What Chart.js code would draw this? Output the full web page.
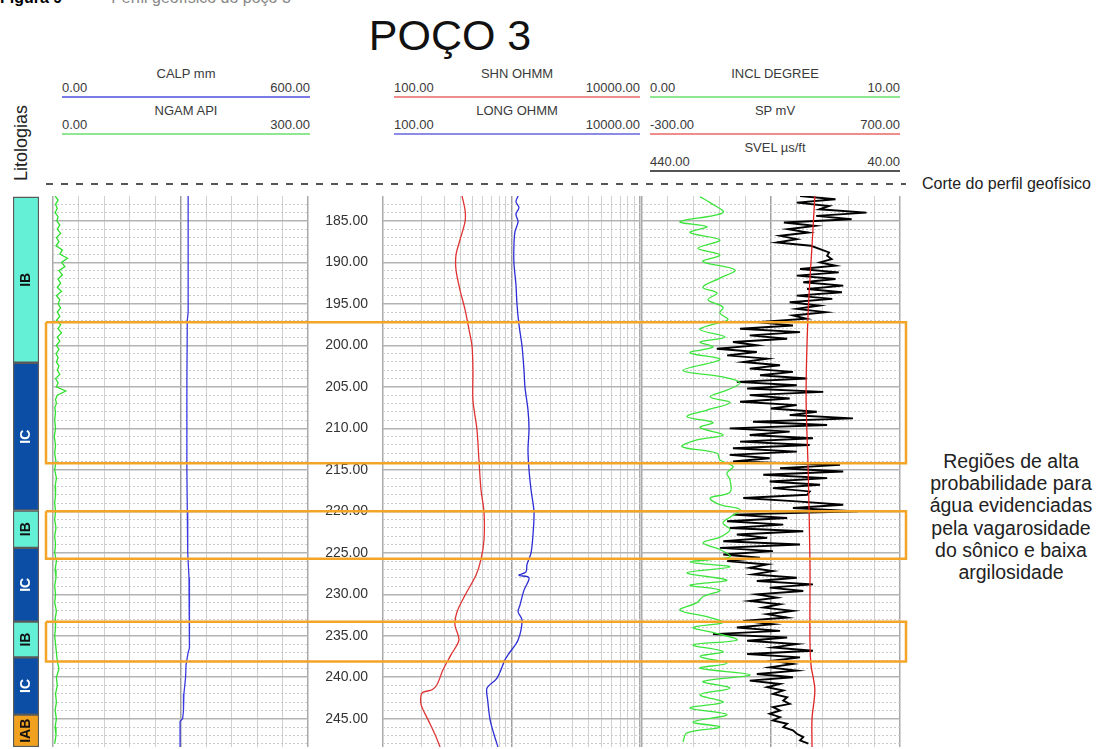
<!DOCTYPE html>
<html lang="pt">
<head>
<meta charset="utf-8">
<title>POÇO 3</title>
<script src="https://cdn.jsdelivr.net/npm/chart.js@4.4.1/dist/chart.umd.min.js"></script>
<style>
  body { margin: 0; width: 1096px; height: 749px; overflow: hidden; background: #fff;
         font-family: "Liberation Sans", Arial, sans-serif; color: #222; position: relative; }
  canvas { position: absolute; }
  .t { position: absolute; white-space: nowrap; font-size: 13px; line-height: 13px; color: #3a3a3a; }
  .hl { position: absolute; height: 2px; }
</style>
</head>
<body>
<div class="t" style="left:0;top:-10px;font-size:16px;line-height:16px;color:#000"><b>Figura 9</b><span style="color:#888">&nbsp;&nbsp;&nbsp;&nbsp;&nbsp;&nbsp;&nbsp;&nbsp;– Perfil geofísico do poço 3</span></div>
<div class="t" style="left:450px;top:14px;font-size:43px;line-height:43px;color:#111;transform:translateX(-50%)">POÇO 3</div>
<div class="t" style="left:21px;top:143px;font-size:18px;line-height:18px;color:#222;transform:translate(-50%,-50%) rotate(-90deg)">Litologias</div>
<div style="position:absolute;left:46px;top:183px;width:860px;height:1.5px;background:repeating-linear-gradient(to right,#555 0 7px,transparent 7px 15px)"></div>
<div class="t" style="left:922px;top:176px;font-size:16px;line-height:16px;color:#222">Corte do perfil geofísico</div>
<div class="t" style="left:911px;top:450px;width:200px;text-align:center;font-size:19.5px;line-height:22.2px;color:#222">Regiões de alta<br>probabilidade para<br>água evidenciadas<br>pela vagarosidade<br>do sônico e baixa<br>argilosidade</div>

<script>
// ---- data (depth in m) ----
const depthTicks = [185, 190, 195, 200, 205, 210, 215, 220, 225, 230, 235, 240, 245];

const litoNames = ['IB', 'IC', 'IB', 'IC', 'IB', 'IC', 'IAB'];
const litoTop   = [182.1, 202.1, 219.9, 224.4, 233.3, 237.6, 244.5];
const litoBase  = [202.1, 219.9, 224.4, 233.3, 237.6, 244.5, 248.4];

const waterTop  = [197.2, 220.0, 233.3];
const waterBase = [214.2, 225.7, 238.1];

const calpDepth = [182, 196, 197, 205, 215, 220, 225, 228, 232, 235, 236.5, 237, 238.5, 240, 242, 244, 245, 245.3, 248.4];
const calpValue = [318, 318, 316, 315, 315, 316, 317, 320, 320, 321, 322, 318, 313, 312, 308, 307, 305, 299, 299];

const ngamDepth = [182, 182.5, 183, 183.5, 184, 184.5, 185, 185.5, 186, 186.5, 187, 187.5, 188, 188.5, 189, 189.5,
  190, 190.5, 191, 191.5, 192, 192.5, 193, 193.5, 194, 194.5, 195, 195.5, 196, 196.5, 197, 197.5, 198, 198.5,
  199, 199.5, 200, 200.5, 201, 201.5, 202, 202.5, 203, 203.5, 204, 204.5, 205, 205.5, 206, 206.5, 207, 207.5, 208,
  209, 210, 211, 212, 213, 214, 215, 216, 217, 218, 219, 220, 221, 222, 223, 224, 225, 226, 227, 228, 229, 230,
  231, 232, 233, 234, 235, 236, 237, 238, 239, 240, 241, 242, 243, 244, 245, 246, 247, 248];
const ngamValue = [2.5, 6, 3, 5, 2.5, 6, 4.5, 8, 5, 9, 4, 7, 3.5, 11, 8, 17,
  10, 14, 7, 11, 6, 9, 5, 10, 4, 8, 6, 9, 5, 8, 4, 9, 6, 10,
  5, 8, 4, 7, 3.5, 6, 4, 7, 5, 8, 3, 6, 4, 15, 5, 3, 4, 2, 3,
  2, 3, 1.5, 3, 2, 3.5, 2, 4, 2.5, 3, 2, 3, 2, 3.5, 2, 3, 2, 4, 2.5, 3.5, 2, 3,
  2, 4, 2.5, 3, 2, 3, 4, 5, 7, 4, 5, 3, 4, 2.5, 4, 2.5, 3.5, 2];

const shnDepth = [182.0, 183.7, 185.1, 187.3, 189.1, 190.9, 193.3, 195.7, 198.1, 200.1, 203.0, 206.6, 210.1, 213.8, 217.4, 220.1,
  223.4, 225.8, 227.7, 230.1, 232.1, 233.7, 235.5, 237.3, 239.1, 240.9, 241.5, 241.9, 243.3, 245.1, 246.9, 248.4];
const shnValue = [412, 435, 435, 397, 370, 370, 397, 435, 467, 493, 501, 501, 538, 558, 579, 611,
  611, 579, 529, 435, 377, 363, 390, 338, 293, 263, 241, 201, 198, 224, 254, 278];

const longDepth = [182.0, 182.7, 183.4, 184.2, 185.1, 186.3, 187.9, 190.1, 192.7, 195.1, 197.5, 200.1, 203.0, 205.1, 207.8,
  210.1, 212.6, 215.0, 217.4, 220.1, 222.8, 225.0, 226.4, 227.3, 227.7, 228.0, 229.5, 231.3, 232.1, 233.1,
  235.5, 237.3, 237.9, 240.1, 241.3, 242.7, 245.1, 246.9, 248.4];
const longValue = [1125, 1083, 1143, 1083, 1125, 1064, 1045, 1045, 1083, 1104, 1143, 1208, 1251, 1274, 1344,
  1369, 1344, 1369, 1419, 1497, 1470, 1419, 1320, 1297, 1143, 1369, 1251, 1164, 1125, 1208,
  1125, 939, 889, 771, 645, 652, 681, 731, 785];

const inclDepth = [182.1, 182.8, 184.0, 185.1, 185.7, 186.4, 187.3, 188.3, 189.1, 189.9, 190.9, 191.9, 193.0, 193.7, 194.5,
  195.4, 196.1, 196.9, 197.5, 198.1, 199.0, 199.6, 200.2, 200.9, 201.7, 203.0, 203.8, 204.5, 205.4, 206.2,
  206.9, 207.8, 208.6, 209.3, 209.9, 210.8, 211.4, 212.2, 213.0, 213.8, 214.6, 215.4, 216.2, 217.7, 218.4,
  219.2, 219.8, 220.7, 221.4, 222.2, 223.1, 223.8, 224.6, 225.5, 226.1, 226.7, 227.4, 228.3, 228.9, 229.5,
  230.3, 231.0, 231.9, 232.7, 233.4, 234.0, 234.6, 235.5, 236.1, 236.9, 237.5, 238.3, 238.9, 239.7, 240.5,
  241.3, 242.1, 243.0, 243.7, 244.5, 245.4, 246.0, 246.7, 247.8];
const inclValue = [2.25, 2.64, 3.14, 1.47, 2.52, 1.86, 3.02, 2.17, 3.02, 2.36, 3.60, 3.02, 2.36, 2.91, 2.56,
  3.14, 3.02, 3.33, 2.71, 2.25, 3.22, 2.25, 2.75, 1.86, 3.02, 1.59, 3.14, 3.80, 3.29, 2.64,
  3.41, 2.52, 1.74, 2.75, 2.25, 3.14, 2.13, 1.55, 2.91, 3.02, 3.53, 3.29, 3.41, 3.41, 2.64,
  3.02, 3.80, 3.41, 3.14, 3.41, 3.02, 2.36, 3.02, 3.41, 1.86, 3.41, 1.74, 3.29, 1.86, 3.02,
  2.36, 2.13, 1.47, 2.52, 3.14, 1.98, 2.75, 3.68, 1.98, 3.14, 2.25, 3.29, 2.25, 4.19, 2.36,
  3.41, 2.25, 3.14, 1.86, 3.29, 1.98, 3.02, 1.74, 1.59];

const spDepth = [182, 188, 196, 206, 215, 226, 235.5, 238.5, 241.5, 245, 248.4];
const spValue = [370, 359, 344, 336, 344, 351, 351, 355, 370, 359, 359];

// SVEL sampled every 0.4 m from 182.0 m
const svelStart = 182.0, svelStep = 0.4;
const svelValue = [195, 140, 200, 150, 165, 92, 170, 115, 220, 172, 214, 182, 226, 200, 231, 178, 164, 150, 153, 146,
  164, 140, 195, 135, 200, 140, 190, 128, 184, 130, 200, 145, 211, 165, 200, 155, 206, 185, 262, 206,
  288, 195, 273, 215, 299, 262, 324, 262, 308, 246, 283, 226, 273, 206, 257, 184, 293, 200, 277, 159,
  273, 211, 288, 200, 240, 169, 211, 113, 268, 153, 304, 211, 273, 175, 288, 180, 299, 200, 304, 242,
  299, 133, 226, 128, 252, 153, 242, 164, 237, 180, 184, 283, 200, 128, 206, 105, 299, 215, 308, 221,
  304, 190, 293, 246, 314, 195, 319, 237, 314, 257, 308, 246, 273, 237, 268, 200, 262, 175, 242, 190,
  262, 231, 273, 226, 252, 206, 246, 215, 283, 237, 293, 226, 330, 215, 277, 200, 237, 175, 277, 195,
  237, 206, 242, 200, 262, 206, 273, 226, 246, 221, 237, 215, 221, 211, 237, 226, 242, 226, 237, 215,
  221, 206, 200, 190, 195, 182];

// ---- grid definitions ----
const calpGrid = [0, 60, 120, 180, 240, 300, 360, 420, 480, 540, 600];
const resGrid = [100, 200, 300, 400, 500, 600, 700, 800, 900, 1000, 2000, 3000, 4000, 5000, 6000, 7000, 8000, 9000, 10000];
const inclGrid = [0, 1, 2, 3, 4, 5, 6, 7, 8, 9, 10];
const depthMinor = [];
for (let d = 183; d <= 248; d++) if (d % 5 !== 0) depthMinor.push(d);

const DEPTH_MIN = 182, DEPTH_MAX = 248.4;

// ---- headers ----
const headerRows = [
  { name: 'CALP mm',     lo: '0.00',    hi: '600.00',   color: '#7b7be8', track: 0, row: 0 },
  { name: 'NGAM API',    lo: '0.00',    hi: '300.00',   color: '#8fe88f', track: 0, row: 1 },
  { name: 'SHN OHMM',    lo: '100.00',  hi: '10000.00', color: '#f08c8c', track: 1, row: 0 },
  { name: 'LONG OHMM',   lo: '100.00',  hi: '10000.00', color: '#8c8ce8', track: 1, row: 1 },
  { name: 'INCL DEGREE', lo: '0.00',    hi: '10.00',    color: '#8fe88f', track: 2, row: 0 },
  { name: 'SP mV',       lo: '-300.00', hi: '700.00',   color: '#f08c8c', track: 2, row: 1 },
  { name: 'SVEL µs/ft',  lo: '440.00',  hi: '40.00',    color: '#555555', track: 2, row: 2 }
];
const headerX = [[62, 310], [394, 640], [650, 900]];
const headerY = [73, 110, 147];

headerRows.forEach(h => {
  const [x0, x1] = headerX[h.track];
  const yName = headerY[h.row];
  const add = (txt, style) => {
    const el = document.createElement('div');
    el.className = 't';
    el.textContent = txt;
    el.setAttribute('style', style);
    document.body.appendChild(el);
  };
  add(h.name, `left:${(x0 + x1) / 2}px;top:${yName - 6.5}px;transform:translateX(-50%)`);
  add(h.lo, `left:${x0}px;top:${yName + 8}px`);
  add(h.hi, `left:${x1}px;top:${yName + 8}px;transform:translateX(-100%)`);
  const line = document.createElement('div');
  line.className = 'hl';
  line.setAttribute('style', `left:${x0}px;top:${yName + 23}px;width:${x1 - x0}px;background:${h.color}`);
  document.body.appendChild(line);
});

// ---- charts ----
Chart.defaults.font.family = '"Liberation Sans", Arial, sans-serif';
Chart.defaults.animation = false;
Chart.defaults.plugins.legend.display = false;
Chart.defaults.plugins.tooltip.enabled = false;
Chart.defaults.events = [];

function makeCanvas(left, top, w, h, z) {
  const c = document.createElement('canvas');
  c.width = w; c.height = h;
  c.style.left = left + 'px'; c.style.top = top + 'px';
  c.style.zIndex = z || 1;
  document.body.appendChild(c);
  return c;
}

const pad = { left: 2, right: 2, top: 2, bottom: 2 };

function depthScales() {
  return {
    y: {
      type: 'linear', min: DEPTH_MIN, max: DEPTH_MAX, reverse: true,
      ticks: { display: false }, border: { display: false },
      grid: { drawTicks: false, color: '#b3b3b3', lineWidth: 1.6 },
      afterBuildTicks: s => { s.ticks = depthTicks.map(v => ({ value: v })); }
    },
    yMinor: {
      type: 'linear', min: DEPTH_MIN, max: DEPTH_MAX, reverse: true,
      ticks: { display: false }, border: { display: false, dash: [2, 2] },
      grid: { drawTicks: false, color: '#cccccc', lineWidth: 1 },
      afterBuildTicks: s => { s.ticks = depthMinor.map(v => ({ value: v })); }
    }
  };
}

function gridX(type, min, max, ticks, strong) {
  const isEdge = c => c.tick && (c.tick.value === min || c.tick.value === max);
  return {
    type, min, max,
    ticks: { display: false }, border: { display: false },
    grid: {
      drawTicks: false,
      color: c => (c.tick && c.tick.value === strong) ? '#a0a0a0' : (isEdge(c) ? '#aaaaaa' : '#d0d0d0'),
      lineWidth: c => (isEdge(c) || (c.tick && c.tick.value === strong)) ? 1.5 : 1
    },
    afterBuildTicks: s => { s.ticks = ticks.map(v => ({ value: v })); }
  };
}

function curve(depths, values, xAxisID, color, width, tension) {
  return {
    data: depths.map((d, i) => ({ x: values[i], y: d })),
    xAxisID, yAxisID: 'y',
    borderColor: color, borderWidth: width,
    pointRadius: 0, fill: false, tension
  };
}

// lithology column
const litoFill = { IB: '#63f0d6', IC: '#0c4ea6', IAB: '#f2a11e' };
const litoInk  = { IB: '#111', IC: '#fff', IAB: '#111' };
new Chart(makeCanvas(11, 194, 30, 555), {
  type: 'bar',
  data: {
    labels: ['lito'],
    datasets: litoNames.map((n, i) => ({
      data: [[litoTop[i], litoBase[i]]],
      backgroundColor: litoFill[n], borderColor: '#5a5a5a', borderWidth: 1.5,
      borderSkipped: false, grouped: false, barPercentage: 1, categoryPercentage: 1
    }))
  },
  options: {
    responsive: false, layout: { padding: pad },
    scales: {
      x: { type: 'category', display: false },
      y: { type: 'linear', min: DEPTH_MIN, max: DEPTH_MAX, reverse: true, display: false }
    }
  },
  plugins: [{
    id: 'litoLabels',
    afterDatasetsDraw(chart) {
      const ctx = chart.ctx;
      chart.data.datasets.forEach((ds, i) => {
        const bar = chart.getDatasetMeta(i).data[0];
        ctx.save();
        ctx.translate(bar.x, (bar.y + bar.base) / 2);
        ctx.rotate(-Math.PI / 2);
        ctx.font = 'bold 14px "Liberation Sans", Arial, sans-serif';
        ctx.fillStyle = litoInk[litoNames[i]];
        ctx.textAlign = 'center';
        ctx.textBaseline = 'middle';
        ctx.fillText(litoNames[i], 0, 0);
        ctx.restore();
      });
    }
  }]
});

// track 1: CALP + NGAM
new Chart(makeCanvas(51, 194, 259, 555), {
  type: 'line',
  data: {
    datasets: [
      curve(calpDepth, calpValue, 'x', '#3a3ae0', 1.3, 0),
      curve(ngamDepth, ngamValue, 'xNgam', '#2fe02f', 1.3, 0)
    ]
  },
  options: {
    responsive: false, layout: { padding: pad },
    scales: Object.assign({
      x: gridX('linear', 0, 600, calpGrid, 300),
      xNgam: { type: 'linear', min: 0, max: 300, display: false }
    }, depthScales())
  }
});

// depth labels
new Chart(makeCanvas(310, 194, 72, 555), {
  type: 'line',
  data: { datasets: [] },
  options: {
    responsive: false, layout: { padding: { left: 0, right: 0, top: 2, bottom: 2 } },
    scales: {
      x: { type: 'linear', min: 0, max: 1, display: false },
      y: {
        type: 'linear', min: DEPTH_MIN, max: DEPTH_MAX, reverse: true,
        grid: { display: false, drawTicks: false }, border: { display: false },
        ticks: { color: '#333', font: { size: 14 }, padding: 3, callback: v => v.toFixed(2) },
        afterBuildTicks: s => { s.ticks = depthTicks.map(v => ({ value: v })); },
        afterFit: s => { s.width = 61; s.paddingTop = 0; s.paddingBottom = 0; }
      }
    }
  }
});

// track 2: SHN + LONG (log)
new Chart(makeCanvas(381, 194, 261, 555), {
  type: 'line',
  data: {
    datasets: [
      curve(shnDepth, shnValue, 'x', '#e03434', 1.3, 0.3),
      curve(longDepth, longValue, 'x', '#2d2dd6', 1.3, 0.3)
    ]
  },
  options: {
    responsive: false, layout: { padding: pad },
    scales: Object.assign({
      x: gridX('logarithmic', 100, 10000, resGrid, 1000)
    }, depthScales())
  }
});

// track 3: INCL + SP + SVEL
new Chart(makeCanvas(640, 194, 262, 555), {
  type: 'line',
  data: {
    datasets: [
      curve(inclDepth, inclValue, 'x', '#3ee43e', 1.3, 0.35),
      curve(spDepth, spValue, 'xSp', '#e02424', 1.3, 0.3),
      curve(svelValue.map((v, i) => svelStart + i * svelStep), svelValue, 'xSvel', '#000000', 1.9, 0)
    ]
  },
  options: {
    responsive: false, layout: { padding: pad },
    scales: Object.assign({
      x: gridX('linear', 0, 10, inclGrid, 5),
      xSp: { type: 'linear', min: -300, max: 700, display: false },
      xSvel: { type: 'linear', min: 40, max: 440, reverse: true, display: false }
    }, depthScales())
  }
});

// water zones overlay
new Chart(makeCanvas(44, 194, 864, 555, 5), {
  type: 'line',
  data: {
    datasets: waterTop.map((t, i) => ({
      data: [{ x: 0, y: t }, { x: 1, y: t }, { x: 1, y: waterBase[i] }, { x: 0, y: waterBase[i] }, { x: 0, y: t }],
      borderColor: '#f4a528', borderWidth: 2.5, pointRadius: 0, fill: false, tension: 0, clip: false
    }))
  },
  options: {
    responsive: false, layout: { padding: pad },
    scales: {
      x: { type: 'linear', min: 0, max: 1, display: false },
      y: { type: 'linear', min: DEPTH_MIN, max: DEPTH_MAX, reverse: true, display: false }
    }
  }
});
</script>
</body>
</html>
